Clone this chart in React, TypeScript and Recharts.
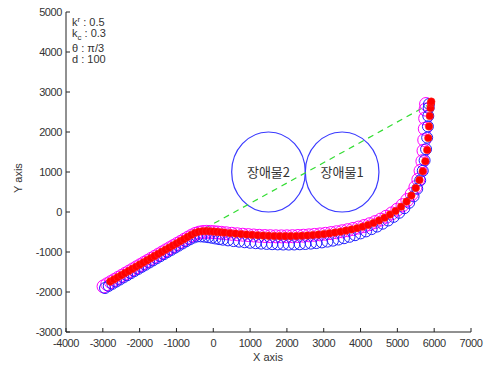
import { ReferenceArea, Scatter, ScatterChart, XAxis, YAxis } from "recharts";

// axis ticks
const xTicks = [-4000, -3000, -2000, -1000, 0, 1000, 2000, 3000, 4000, 5000, 6000, 7000];
const yTicks = [-3000, -2000, -1000, 0, 1000, 2000, 3000, 4000, 5000];

// robot trajectories as [x, y]
const magentaPath: [number, number][] = [
  [-2980, -1860], [-2880, -1805], [-2780, -1752], [-2680, -1699], [-2580, -1646], [-2480, -1593],
  [-2380, -1540], [-2280, -1487], [-2180, -1434], [-2080, -1381], [-1980, -1328], [-1880, -1275],
  [-1780, -1222], [-1680, -1169], [-1580, -1116], [-1480, -1063], [-1380, -1010], [-1280, -957],
  [-1180, -904], [-1080, -851], [-980, -798], [-880, -745], [-780, -692], [-680, -639],
  [-580, -588], [-480, -545], [-380, -515], [-280, -500], [-180, -496], [-80, -498],
  [20, -505], [120, -513], [220, -521], [350, -532], [500, -545], [650, -557],
  [800, -568], [950, -578], [1100, -587], [1250, -595], [1400, -601], [1550, -605],
  [1700, -608], [1850, -609], [2000, -608], [2150, -605], [2300, -600], [2450, -593],
  [2600, -584], [2750, -573], [2900, -560], [3050, -545], [3200, -527], [3350, -506],
  [3500, -482], [3650, -455], [3800, -424], [3950, -389], [4100, -350], [4250, -305],
  [4400, -252], [4550, -190], [4700, -118], [4850, -35], [5000, 60], [5140, 170],
  [5270, 300], [5390, 450], [5490, 620], [5570, 810], [5630, 1030], [5680, 1270],
  [5710, 1530], [5730, 1800], [5745, 2080], [5755, 2340], [5765, 2560], [5780, 2700],
];

const bluePath: [number, number][] = [
  [-2940, -1900], [-2840, -1848], [-2740, -1795], [-2640, -1742], [-2540, -1689], [-2440, -1636],
  [-2340, -1583], [-2240, -1530], [-2140, -1477], [-2040, -1424], [-1940, -1371], [-1840, -1318],
  [-1740, -1265], [-1640, -1212], [-1540, -1159], [-1440, -1106], [-1340, -1053], [-1240, -1000],
  [-1140, -947], [-1040, -894], [-940, -841], [-840, -788], [-740, -735], [-640, -685],
  [-540, -640], [-440, -612], [-340, -610], [-240, -618], [-140, -630], [-40, -645],
  [60, -662], [160, -678], [260, -692], [400, -710], [550, -727], [700, -742],
  [850, -756], [1000, -769], [1150, -780], [1300, -790], [1450, -798], [1600, -805],
  [1750, -810], [1900, -813], [2050, -814], [2200, -812], [2350, -807], [2500, -800],
  [2650, -790], [2800, -777], [2950, -760], [3100, -740], [3250, -716], [3400, -688],
  [3550, -656], [3700, -620], [3850, -580], [4000, -535], [4150, -485], [4300, -428],
  [4450, -364], [4600, -292], [4750, -212], [4900, -122], [5050, -20], [5190, 95],
  [5320, 230], [5440, 390], [5540, 580], [5620, 790], [5690, 1030], [5740, 1290],
  [5780, 1570], [5810, 1860], [5830, 2140], [5840, 2400], [5850, 2600], [5860, 2700],
];

const redPath: [number, number][] = [
  [-2800, -1740], [-2700, -1687], [-2600, -1634], [-2500, -1581], [-2400, -1528], [-2300, -1475],
  [-2200, -1422], [-2100, -1369], [-2000, -1316], [-1900, -1263], [-1800, -1210], [-1700, -1157],
  [-1600, -1104], [-1500, -1051], [-1400, -998], [-1300, -945], [-1200, -892], [-1100, -839],
  [-1000, -786], [-900, -733], [-800, -680], [-700, -627], [-600, -574], [-500, -525],
  [-400, -495], [-300, -482], [-200, -478], [-100, -482], [0, -490], [100, -498],
  [200, -506], [300, -515], [450, -528], [600, -540], [750, -552], [900, -563],
  [1050, -573], [1200, -582], [1350, -590], [1500, -596], [1650, -600], [1800, -603],
  [1950, -604], [2100, -603], [2250, -600], [2400, -595], [2550, -588], [2700, -578],
  [2850, -566], [3000, -552], [3150, -535], [3300, -515], [3450, -492], [3600, -466],
  [3750, -437], [3900, -405], [4050, -368], [4200, -325], [4350, -275], [4500, -215],
  [4650, -145], [4800, -65], [4950, 25], [5100, 130], [5250, 260], [5380, 410],
  [5500, 600], [5600, 800], [5690, 1020], [5760, 1270], [5810, 1550], [5840, 1850],
  [5860, 2140], [5880, 2400], [5900, 2600], [5910, 2720], [5920, 2760],
];

// straight line from the bend to the goal
const guidePath: [number, number][] = [[-500, -550], [5800, 2660]];

const obstacles = [
  { name: "장애물2", x: 1500, y: 1000, r: 1000 },
  { name: "장애물1", x: 3500, y: 1000, r: 1000 },
];

const toPoints = (path: [number, number][]) => path.map(([x, y]) => ({ x, y }));

const tickFont = { fontFamily: "'Liberation Sans', Arial, sans-serif", fontSize: 11, fill: "#333" };

function FrameTick(props: any) {
  const { x, y, payload, side } = props;
  const len = 4;
  if (side === "bottom") {
    return (
      <g>
        <line x1={x} y1={y} x2={x} y2={y - len} stroke="#222" />
        <text x={x} y={y + 15} textAnchor="middle" letterSpacing={-0.4} {...tickFont}>
          {payload.value}
        </text>
      </g>
    );
  }
  if (side === "left") {
    return (
      <g>
        <line x1={x} y1={y} x2={x + len} y2={y} stroke="#222" />
        <text x={x - 4} y={y + 4} textAnchor="end" letterSpacing={-0.4} {...tickFont}>
          {payload.value}
        </text>
      </g>
    );
  }
  if (side === "top") {
    return <line x1={x} y1={y} x2={x} y2={y + len} stroke="#222" />;
  }
  return <line x1={x} y1={y} x2={x - len} y2={y} stroke="#222" />;
}

export default function App() {
  return (
    <div style={{ position: "absolute", left: 0, top: 0, width: 484, height: 367, background: "#fff" }}>
      <ScatterChart width={484} height={367} margin={{ top: 12, right: 13, bottom: 0, left: 0 }}>
        <XAxis
          xAxisId="b"
          type="number"
          dataKey="x"
          domain={[-4000, 7000]}
          ticks={xTicks}
          interval={0}
          allowDataOverflow
          height={35}
          tickSize={0}
          tickMargin={0}
          tickLine={false}
          axisLine={{ stroke: "#222" }}
          tick={(p: any) => <FrameTick {...p} side="bottom" />}
        />
        <XAxis
          xAxisId="t"
          orientation="top"
          type="number"
          dataKey="x"
          domain={[-4000, 7000]}
          ticks={xTicks}
          interval={0}
          allowDataOverflow
          height={0}
          tickSize={0}
          tickMargin={0}
          tickLine={false}
          axisLine={{ stroke: "#222" }}
          tick={(p: any) => <FrameTick {...p} side="top" />}
        />
        <YAxis
          yAxisId="l"
          type="number"
          dataKey="y"
          domain={[-3000, 5000]}
          ticks={yTicks}
          interval={0}
          allowDataOverflow
          width={66}
          tickSize={0}
          tickMargin={0}
          tickLine={false}
          axisLine={{ stroke: "#222" }}
          tick={(p: any) => <FrameTick {...p} side="left" />}
        />
        <YAxis
          yAxisId="r"
          orientation="right"
          type="number"
          dataKey="y"
          domain={[-3000, 5000]}
          ticks={yTicks}
          interval={0}
          allowDataOverflow
          width={0}
          tickSize={0}
          tickMargin={0}
          tickLine={false}
          axisLine={{ stroke: "#222" }}
          tick={(p: any) => <FrameTick {...p} side="right" />}
        />
        {obstacles.map((o) => (
          <ReferenceArea
            key={o.name}
            xAxisId="b"
            yAxisId="l"
            x1={o.x - o.r}
            x2={o.x + o.r}
            y1={o.y - o.r}
            y2={o.y + o.r}
            shape={(p: any) => (
              <ellipse
                cx={p.x + p.width / 2}
                cy={p.y + p.height / 2}
                rx={p.width / 2}
                ry={p.height / 2}
                fill="none"
                stroke="#3a3aff"
                strokeWidth={1.2}
              />
            )}
            label={{
              value: o.name,
              position: "center",
              fill: "#333",
              fontSize: 13,
              fontFamily: "'Noto Sans CJK KR', sans-serif",
            }}
          />
        ))}
        <Scatter
          xAxisId="b"
          yAxisId="l"
          data={toPoints(guidePath)}
          line={{ stroke: "#33dd33", strokeWidth: 1.2, strokeDasharray: "6 5" }}
          shape={() => <g />}
          isAnimationActive={false}
        />
        <Scatter
          xAxisId="b"
          yAxisId="l"
          data={toPoints(magentaPath)}
          shape={(p: any) => <circle cx={p.cx} cy={p.cy} r={6.5} fill="none" stroke="#ff00ff" strokeWidth={1} />}
          isAnimationActive={false}
        />
        <Scatter
          xAxisId="b"
          yAxisId="l"
          data={toPoints(bluePath)}
          shape={(p: any) => <circle cx={p.cx} cy={p.cy} r={5.5} fill="none" stroke="#2020ff" strokeWidth={1} />}
          isAnimationActive={false}
        />
        <Scatter
          xAxisId="b"
          yAxisId="l"
          data={toPoints(redPath)}
          shape={(p: any) => <circle cx={p.cx} cy={p.cy} r={3.8} fill="#ff0000" stroke="#ff2a2a" strokeWidth={0.5} />}
          isAnimationActive={false}
        />
      </ScatterChart>
      <svg
        width={484}
        height={367}
        style={{ position: "absolute", left: 0, top: 0, pointerEvents: "none" }}
        fontFamily="'Liberation Sans', Arial, sans-serif"
      >
        <g fontSize={11} fill="#333">
          <text x={72} y={26}>
            k<tspan fontSize={8} dy={-4}>r</tspan>
            <tspan dy={4}> : 0.5</tspan>
          </text>
          <text x={72} y={37}>
            k<tspan fontSize={8} dy={3}>c</tspan>
            <tspan dy={-3}> : 0.3</tspan>
          </text>
          <text x={72} y={52}>θ : π/3</text>
          <text x={72} y={63}>d : 100</text>
          <text x={268} y={361} textAnchor="middle">X axis</text>
          <text x={22} y={178} textAnchor="middle" transform="rotate(-90 22 178)">Y axis</text>
        </g>
      </svg>
    </div>
  );
}
